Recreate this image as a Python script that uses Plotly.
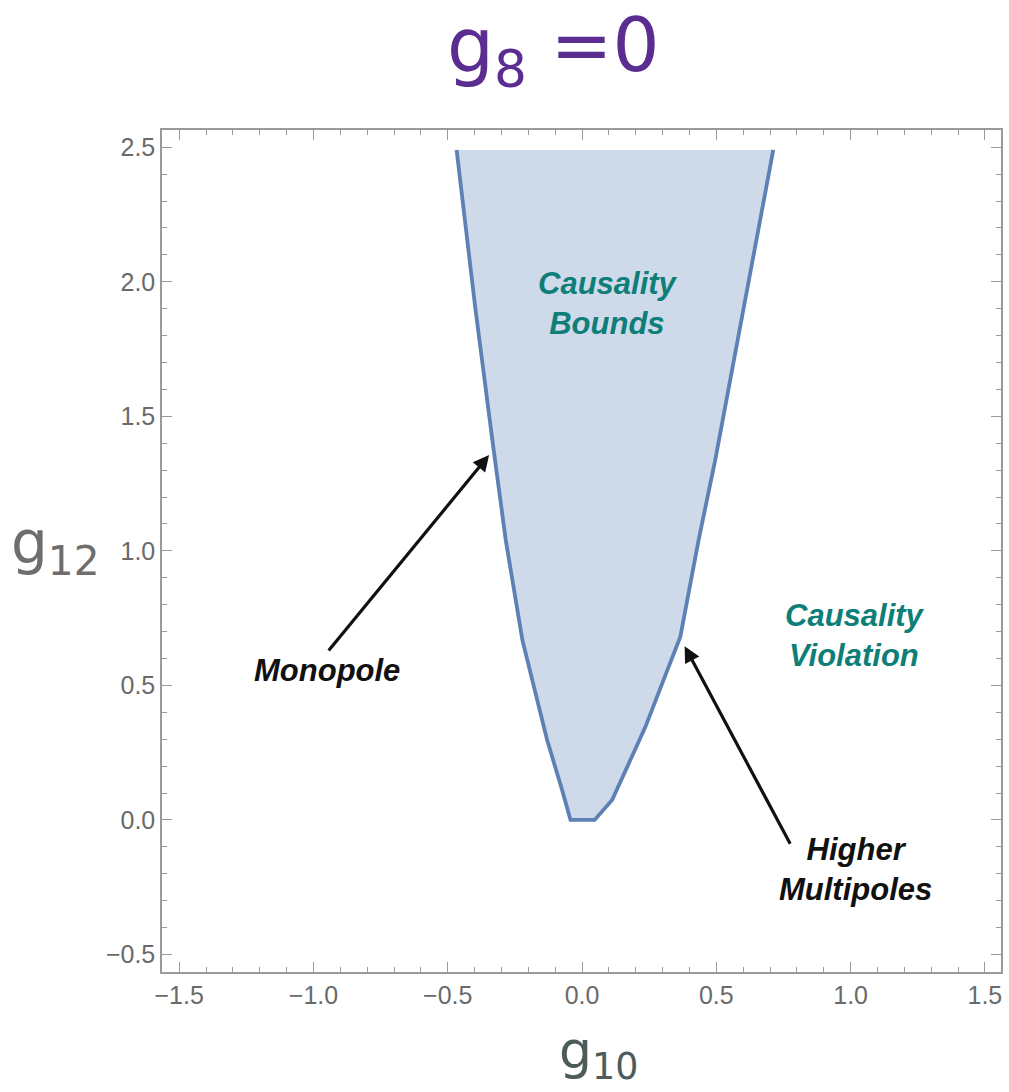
import plotly.graph_objects as go

# Boundary of the allowed region in the (g10, g12) plane at g8 = 0,
# traced from the upper-left end, through the bottom, to the upper-right end.
g10_boundary = [-0.467, -0.398, -0.334, -0.284, -0.222, -0.130, -0.074, -0.043,
                0.047, 0.112, 0.174, 0.236, 0.366, 0.434, 0.496, 0.712]
g12_boundary = [2.49, 1.907, 1.412, 1.040, 0.668, 0.297, 0.111, 0.0,
                0.0, 0.074, 0.210, 0.346, 0.681, 1.040, 1.338, 2.49]

x_ticks = [-1.5, -1.0, -0.5, 0.0, 0.5, 1.0, 1.5]
y_ticks = [-0.5, 0.0, 0.5, 1.0, 1.5, 2.0, 2.5]

# Arrow annotations: (tail x, tail y, tip x, tip y)
monopole_arrow = (-0.948, 0.624, -0.346, 1.356)
multipole_arrow = (0.778, -0.094, 0.382, 0.646)

LINE = "#5E81B5"
FILL = "rgba(94,129,181,0.30)"
TEAL = "#0E7F78"
AXIS = "#9A9A9A"
TICKTXT = "#6A6A6A"
SANS = "Liberation Sans, Arial, sans-serif"

fig = go.Figure()

# Shaded region (no stroke along the top cut)
fig.add_trace(go.Scatter(
    x=g10_boundary, y=g12_boundary, mode="lines", fill="toself",
    fillcolor=FILL, line=dict(width=0, color=FILL), hoverinfo="skip",
    showlegend=False))
# Boundary curve
fig.add_trace(go.Scatter(
    x=g10_boundary, y=g12_boundary, mode="lines",
    line=dict(color=LINE, width=3.8), showlegend=False))

label_font = dict(family=SANS, size=31, color=TEAL)
black_font = dict(family=SANS, size=31, color="#111111")

fig.add_annotation(x=0.096, y=1.92, xref="x", yref="y",
                   text="<b><i>Causality<br>Bounds</i></b>", showarrow=False,
                   font=label_font, align="center")
fig.add_annotation(x=1.016, y=0.686, xref="x", yref="y",
                   text="<b><i>Causality<br>Violation</i></b>", showarrow=False,
                   font=label_font, align="center")

# Arrows
for (tx, ty, hx, hy) in (monopole_arrow, multipole_arrow):
    fig.add_annotation(x=hx, y=hy, ax=tx, ay=ty, xref="x", yref="y",
                       axref="x", ayref="y", text="", showarrow=True,
                       arrowhead=2, arrowsize=1.0, arrowwidth=3.2,
                       arrowcolor="#111111", standoff=0)

fig.add_annotation(x=-0.950, y=0.557, xref="x", yref="y",
                   text="<b><i>Monopole</i></b>", showarrow=False,
                   font=black_font)
fig.add_annotation(x=1.020, y=-0.183, xref="x", yref="y",
                   text="<b><i>Higher<br>Multipoles</i></b>", showarrow=False,
                   font=black_font, align="center")

# Title and axis labels
fig.add_annotation(x=0.467, y=1.094, xref="paper", yref="paper",
                   xanchor="center", yanchor="middle",
                   text="g<sub>8</sub> =0", showarrow=False,
                   font=dict(family="DejaVu Sans", size=74, color="#5B2D91"))
fig.add_annotation(x=-0.128, y=0.505, xref="paper", yref="paper",
                   xanchor="center", yanchor="middle",
                   text="g<sub>12</sub>", showarrow=False,
                   font=dict(family="DejaVu Sans", size=58, color="#6E6E6E"))
fig.add_annotation(x=0.52, y=-0.097, xref="paper", yref="paper",
                   xanchor="center", yanchor="middle",
                   text="g<sub>10</sub>", showarrow=False,
                   font=dict(family="DejaVu Sans", size=52, color="#4E5B5B"))

axis_common = dict(
    showgrid=False, zeroline=False, showline=True, linecolor=AXIS,
    linewidth=1.5, mirror="allticks", ticks="inside", ticklen=10,
    tickwidth=1.3, tickcolor=AXIS,
    tickfont=dict(family=SANS, size=25, color=TICKTXT),
    minor=dict(ticks="inside", ticklen=5, tickwidth=1.2, tickcolor=AXIS,
               dtick=0.1),
)

fig.update_xaxes(range=[-1.564, 1.560], tickvals=x_ticks,
                 ticktext=[f"{v:.1f}".replace("-", "\u2212") for v in x_ticks],
                 **axis_common)
fig.update_yaxes(range=[-0.565, 2.564], tickvals=y_ticks,
                 ticktext=[f"{v:.1f}".replace("-", "\u2212") for v in y_ticks],
                 **axis_common)

fig.update_layout(
    width=1009, height=1092,
    margin=dict(l=162, r=6, t=130, b=120),
    plot_bgcolor="white", paper_bgcolor="white",
    showlegend=False,
)

fig.write_html("out.html")
